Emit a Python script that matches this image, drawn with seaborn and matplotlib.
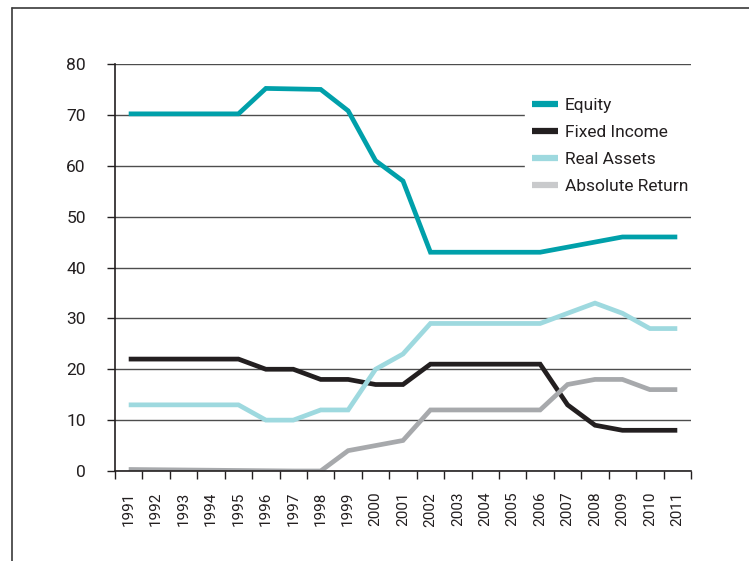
import pandas as pd
import matplotlib.pyplot as plt
import seaborn as sns
from matplotlib.lines import Line2D
from matplotlib.ticker import MultipleLocator

# data (allocation in %)
years = list(range(1991, 2012))
equity = [70.2, 70.2, 70.2, 70.2, 70.2, 75.2, 75.1, 75.0, 70.8, 61, 57,
          43, 43, 43, 43, 43, 44, 45, 46, 46, 46]
fixed_income = [22, 22, 22, 22, 22, 20, 20, 18, 18, 17, 17,
                21, 21, 21, 21, 21, 13, 9, 8, 8, 8]
real_assets = [13, 13, 13, 13, 13, 10, 10, 12, 12, 20, 23,
               29, 29, 29, 29, 29, 31, 33, 31, 28, 28]
absolute_return = [0.3, 0.25, 0.2, 0.15, 0.1, 0.05, 0, 0, 4, 5, 6,
                   12, 12, 12, 12, 12, 17, 18, 18, 16, 16]

series_names = ["Equity", "Fixed Income", "Real Assets", "Absolute Return"]
colors = ["#00A0AA", "#231F20", "#9ED9DF", "#A7A9AC"]
legend_colors = ["#00A0AA", "#231F20", "#9ED9DF", "#C9CACC"]

df = pd.DataFrame({"Year": years, "Equity": equity, "Fixed Income": fixed_income,
                   "Real Assets": real_assets, "Absolute Return": absolute_return})
long_df = df.melt(id_vars="Year", var_name="Series", value_name="Value")

sns.set_theme(style="white")
plt.rcParams["font.family"] = ["Roboto", "DejaVu Sans"]
text_color = "#231F20"

fig = plt.figure(figsize=(7.49, 5.61), dpi=100)
ax = fig.add_axes([115 / 749, 1 - 471 / 561, 576 / 749, 407 / 561])

sns.lineplot(data=long_df, x="Year", y="Value", hue="Series", hue_order=series_names,
             palette=colors, linewidth=3.4, ax=ax, legend=False)
for line in ax.lines:
    line.set_solid_capstyle("butt")
    line.set_solid_joinstyle("miter")

ax.set_xlim(1990.5, 2011.5)
ax.set_ylim(0, 80)
ax.set_xlabel("")
ax.set_ylabel("")

# y axis
ax.yaxis.set_major_locator(MultipleLocator(10))
ax.tick_params(axis="y", which="major", direction="out", length=6, width=1,
               color=text_color, pad=15, labelsize=12.5, labelcolor=text_color, left=True)
ax.grid(axis="y", color="#4d4d4d", linewidth=1)
ax.set_axisbelow(True)

# x axis: labels in the middle, ticks between the years
ax.set_xticks(years)
ax.set_xticklabels([str(y) for y in years], rotation=90)
ax.set_xticks([y - 0.5 for y in years] + [2011.5], minor=True)
ax.tick_params(axis="x", which="major", length=0, pad=15, labelsize=11,
               labelcolor=text_color, bottom=True)
ax.tick_params(axis="x", which="minor", direction="out", length=6, width=1,
               color=text_color, bottom=True)

for side in ["top", "right"]:
    ax.spines[side].set_visible(False)
for side in ["left", "bottom"]:
    ax.spines[side].set_color(text_color)
    ax.spines[side].set_linewidth(1.2)

handles = [Line2D([], [], color=c, linewidth=4.5, solid_capstyle="butt") for c in legend_colors]
leg = ax.legend(handles, series_names, loc="upper left", bbox_to_anchor=(0.712, 0.933),
                frameon=True, facecolor="white", edgecolor="white", framealpha=1,
                fontsize=12.5, handlelength=1.5, handletextpad=0.4,
                labelspacing=0.68, borderpad=0.4, borderaxespad=0)
for t in leg.get_texts():
    t.set_color(text_color)

# page frame at the top and left
fig.add_artist(Line2D([12 / 749, 12 / 749], [0, 1 - 8 / 561], color="#3a3a3a", linewidth=1.2))
fig.add_artist(Line2D([12 / 749, 1], [1 - 8 / 561, 1 - 8 / 561], color="#3a3a3a", linewidth=1.2))

fig.savefig("out.png", dpi=100)
